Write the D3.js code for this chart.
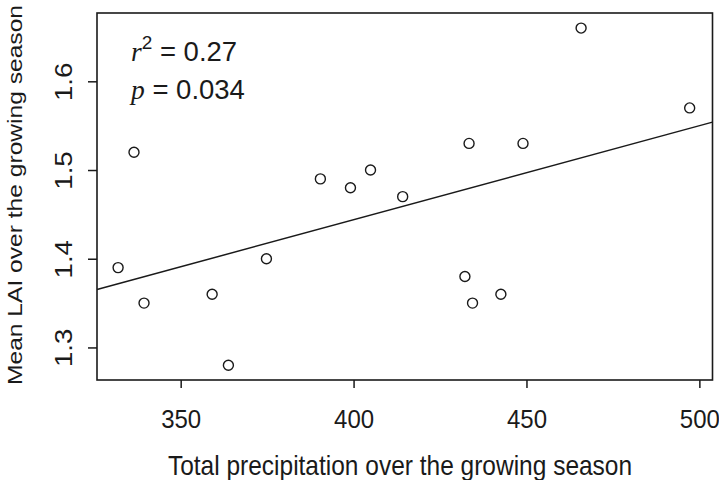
<!DOCTYPE html>
<html><head><meta charset="utf-8">
<script src="https://cdn.jsdelivr.net/npm/d3@7"></script>
<style>body{margin:0;background:#fff}svg{display:block}</style>
</head><body>
<svg id="c" width="719" height="480"></svg>
<script>
const precip = [336.5,331.9,339.4,359.1,374.8,363.8,390.4,399.1,404.9,414.2,433.4,449.0,432.2,434.4,442.6,465.8,497.2];
const lai    = [1.52,1.39,1.35,1.36,1.40,1.28,1.49,1.48,1.50,1.47,1.53,1.53,1.38,1.35,1.36,1.66,1.57];
const xTicks = [350,400,450,500];
const yTicks = [1.3,1.4,1.5,1.6];
const xTitle = "Total precipitation over the growing season";
const yTitle = "Mean LAI over the growing season";
const stats = [["r","2","0.27"],["p",null,"0.034"]];

const svg = d3.select("#c");
const L=97, R=712.5, T=13, B=380;
const x = d3.scaleLinear().domain([325.8,503.8]).range([L,R]);
const y = d3.scaleLinear().domain([1.2633,1.677]).range([B,T]);
const ink="#1a1a1a", font="Liberation Sans, Arial, sans-serif";

// regression
const mx=d3.mean(precip), my=d3.mean(lai);
let sxy=0,sxx=0; precip.forEach((v,i)=>{sxy+=(v-mx)*(lai[i]-my);sxx+=(v-mx)**2;});
const b=sxy/sxx, a=my-b*mx;
const xd=x.domain();
svg.append("line").attr("x1",x(xd[0])).attr("y1",y(a+b*xd[0])).attr("x2",x(xd[1])).attr("y2",y(a+b*xd[1]))
  .attr("stroke",ink).attr("stroke-width",1.5);

// points
svg.append("g").selectAll("circle").data(precip).join("circle")
  .attr("cx",d=>x(d)).attr("cy",(d,i)=>y(lai[i])).attr("r",5)
  .attr("fill","none").attr("stroke",ink).attr("stroke-width",1.4);

// frame
svg.append("rect").attr("x",L).attr("y",T).attr("width",R-L).attr("height",B-T)
  .attr("fill","none").attr("stroke",ink).attr("stroke-width",1.6);

// axes
const xa = svg.append("g").attr("transform",`translate(0,${B})`)
  .call(d3.axisBottom(x).tickValues(xTicks).tickSize(8).tickFormat(d3.format("d")));
const ya = svg.append("g").attr("transform",`translate(${L},0)`)
  .call(d3.axisLeft(y).tickValues(yTicks).tickSize(9).tickFormat(d3.format(".1f")));
[xa,ya].forEach(g=>{g.select(".domain").remove();g.selectAll("line").attr("stroke",ink).attr("stroke-width",1.5);
  g.selectAll("text").attr("fill",ink).style("font-family",font).style("font-size","24px")
   .attr("x",null).attr("y",null).attr("dy",null).attr("text-anchor","middle");});
xa.selectAll(".tick text").attr("transform","translate(0,48) scale(1,1.05)");
ya.selectAll(".tick text").attr("transform","translate(-25,0) rotate(-90) scale(1.15,1)");

// titles
svg.append("text").attr("transform",`translate(400,475) scale(1,1.12)`).attr("text-anchor","middle")
  .style("font-family",font).style("font-size","24.5px").attr("fill",ink).text(xTitle);
svg.append("text").attr("transform",`translate(22,195) rotate(-90) scale(1,0.88)`).attr("text-anchor","middle")
  .attr("textLength",380).attr("lengthAdjust","spacingAndGlyphs")
  .style("font-family",font).style("font-size","24px").attr("fill",ink).text(yTitle);

// stats
stats.forEach((s,i)=>{
  const t=svg.append("text").attr("x",131).attr("y",61+i*38).attr("fill",ink)
    .style("font-family",font).style("font-size","27.5px");
  t.append("tspan").style("font-family","Liberation Serif, Times New Roman, serif").style("font-style","italic").text(s[0]);
  if(s[1]) t.append("tspan").attr("dy",-12).style("font-size","19px").text(s[1]);
  t.append("tspan").attr("dy",s[1]?12:0).text(" = "+s[2]);
});
</script>
</body></html>
